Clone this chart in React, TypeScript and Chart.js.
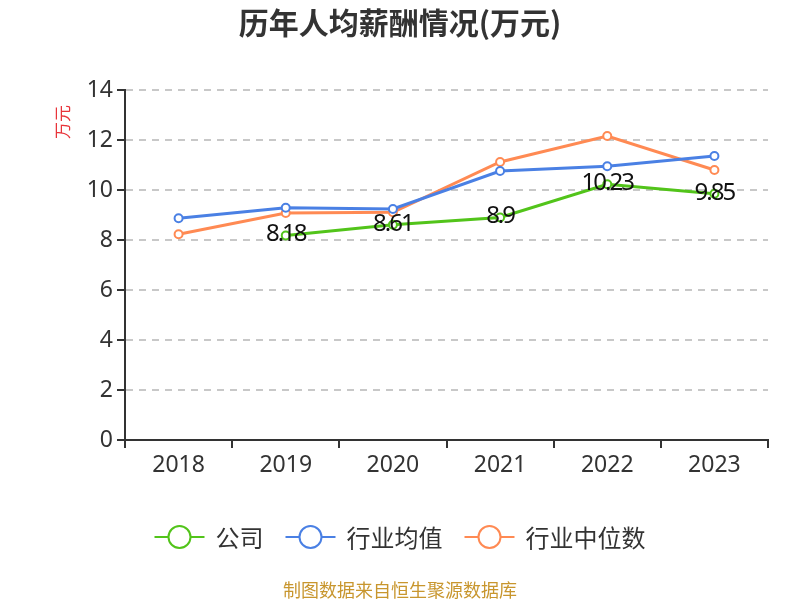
import React, { useEffect, useRef } from "react";
import { Chart, registerables } from "chart.js";

Chart.register(...registerables);

const years = ["2018", "2019", "2020", "2021", "2022", "2023"];
const companyValues: (number | null)[] = [null, 8.18, 8.61, 8.9, 10.23, 9.85];
const industryAvg = [8.87, 9.29, 9.24, 10.76, 10.95, 11.36];
const industryMedian = [8.23, 9.08, 9.11, 11.12, 12.16, 10.8];
const seriesNames = ["公司", "行业均值", "行业中位数"];
const seriesColors = ["#52c41a", "#4a80e4", "#ff8a53"];

const CJK = "'Noto Sans CJK SC', 'Noto Sans', sans-serif";
const NUM = "'Noto Sans', 'Noto Sans CJK SC', sans-serif";

const textPlugin = {
  id: "textPlugin",
  afterDatasetsDraw(chart: any) {
    const ctx = chart.ctx;
    const meta = chart.getDatasetMeta(0);
    ctx.save();
    ctx.fillStyle = "#111";
    ctx.font = `24px ${NUM}`;
    try { (ctx as any).letterSpacing = "-2px"; } catch (e) {}
    ctx.textAlign = "center";
    ctx.textBaseline = "middle";
    meta.data.forEach((pt: any, i: number) => {
      const v = companyValues[i];
      if (v == null) return;
      ctx.fillText(String(v), pt.x, pt.y - 1);
    });
    ctx.restore();
  },
  afterDraw(chart: any) {
    const ctx = chart.ctx;
    ctx.save();
    ctx.fillStyle = "#333";
    ctx.font = `bold 30px ${CJK}`;
    ctx.textAlign = "center";
    ctx.textBaseline = "middle";
    ctx.fillText("历年人均薪酬情况(万元)", 400, 23);

    ctx.fillStyle = "#c8962e";
    ctx.font = `18px ${CJK}`;
    ctx.fillText("制图数据来自恒生聚源数据库", 400, 590);

    // legend
    ctx.font = `24px ${CJK}`;
    ctx.textAlign = "left";
    const markerW = 50, gapText = 11, gapItem = 22;
    const widths = seriesNames.map((n) => ctx.measureText(n).width);
    const total = widths.reduce((a, w) => a + markerW + gapText + w, 0) + gapItem * (seriesNames.length - 1);
    let x = 400 - total / 2;
    const ly = 537;
    seriesNames.forEach((n, i) => {
      ctx.strokeStyle = seriesColors[i];
      ctx.lineWidth = 2;
      ctx.beginPath();
      ctx.moveTo(x, ly);
      ctx.lineTo(x + markerW, ly);
      ctx.stroke();
      ctx.beginPath();
      ctx.arc(x + markerW / 2, ly, 11, 0, Math.PI * 2);
      ctx.fillStyle = "#fff";
      ctx.fill();
      ctx.stroke();
      ctx.fillStyle = "#333";
      ctx.fillText(n, x + markerW + gapText, ly + 1);
      x += markerW + gapText + widths[i] + gapItem;
    });

    ctx.translate(63, 122);
    ctx.rotate(-Math.PI / 2);
    ctx.textAlign = "center";
    ctx.fillStyle = "#e8343a";
    ctx.font = `17px ${CJK}`;
    ctx.fillText("万元", 0, 0);
    ctx.restore();
  },
};

export default function App() {
  const ref = useRef<HTMLCanvasElement>(null);
  useEffect(() => {
    document.body.style.margin = "0";
    const common = {
      borderWidth: 3,
      pointRadius: 4,
      pointHoverRadius: 4,
      pointBorderWidth: 2,
      pointBackgroundColor: "#fff",
      tension: 0,
    };
    const chart = new Chart(ref.current!, {
      type: "line",
      data: {
        labels: years,
        datasets: [
          { label: seriesNames[0], data: companyValues, borderColor: seriesColors[0], pointBorderColor: seriesColors[0], ...common, spanGaps: false },
          { label: seriesNames[1], data: industryAvg, borderColor: seriesColors[1], pointBorderColor: seriesColors[1], ...common },
          { label: seriesNames[2], data: industryMedian, borderColor: seriesColors[2], pointBorderColor: seriesColors[2], ...common },
        ] as any,
      },
      options: {
        animation: false,
        responsive: true,
        maintainAspectRatio: false,
        layout: { padding: { top: 90, right: 32, left: 0, bottom: 84 } },
        plugins: {
          title: { display: false },
          tooltip: { enabled: false },
          legend: { display: false },
        },
        scales: {
          x: {
            offset: true,
            grid: {
              display: true,
              drawOnChartArea: false,
              offset: true,
              tickLength: 8,
              tickColor: "#333",
              lineWidth: 2,
            },
            border: { display: true, color: "#333", width: 2 },
            ticks: { color: "#333", font: { family: NUM, size: 23 }, padding: 4 },
            afterFit: (s: any) => { s.height = 76; },
          },
          y: {
            min: 0,
            max: 14,
            ticks: { stepSize: 2, color: "#333", font: { family: NUM, size: 23 }, padding: 4 },
            grid: {
              color: (c: any) => (c.tick && c.tick.value === 0 ? "rgba(0,0,0,0)" : "#c8c8c8"),
              lineWidth: 2,
              tickLength: 8,
              tickColor: "#333",
              tickBorderDash: [],
              tickWidth: 2,
            } as any,
            border: { display: true, color: "#333", width: 2, dash: [7, 6] },
            afterFit: (s: any) => { s.width = 125; },
          },
        },
      },
      plugins: [textPlugin],
    });
    return () => chart.destroy();
  }, []);
  return (
    <div style={{ position: "relative", width: 800, height: 600 }}>
      <canvas ref={ref} />
    </div>
  );
}
